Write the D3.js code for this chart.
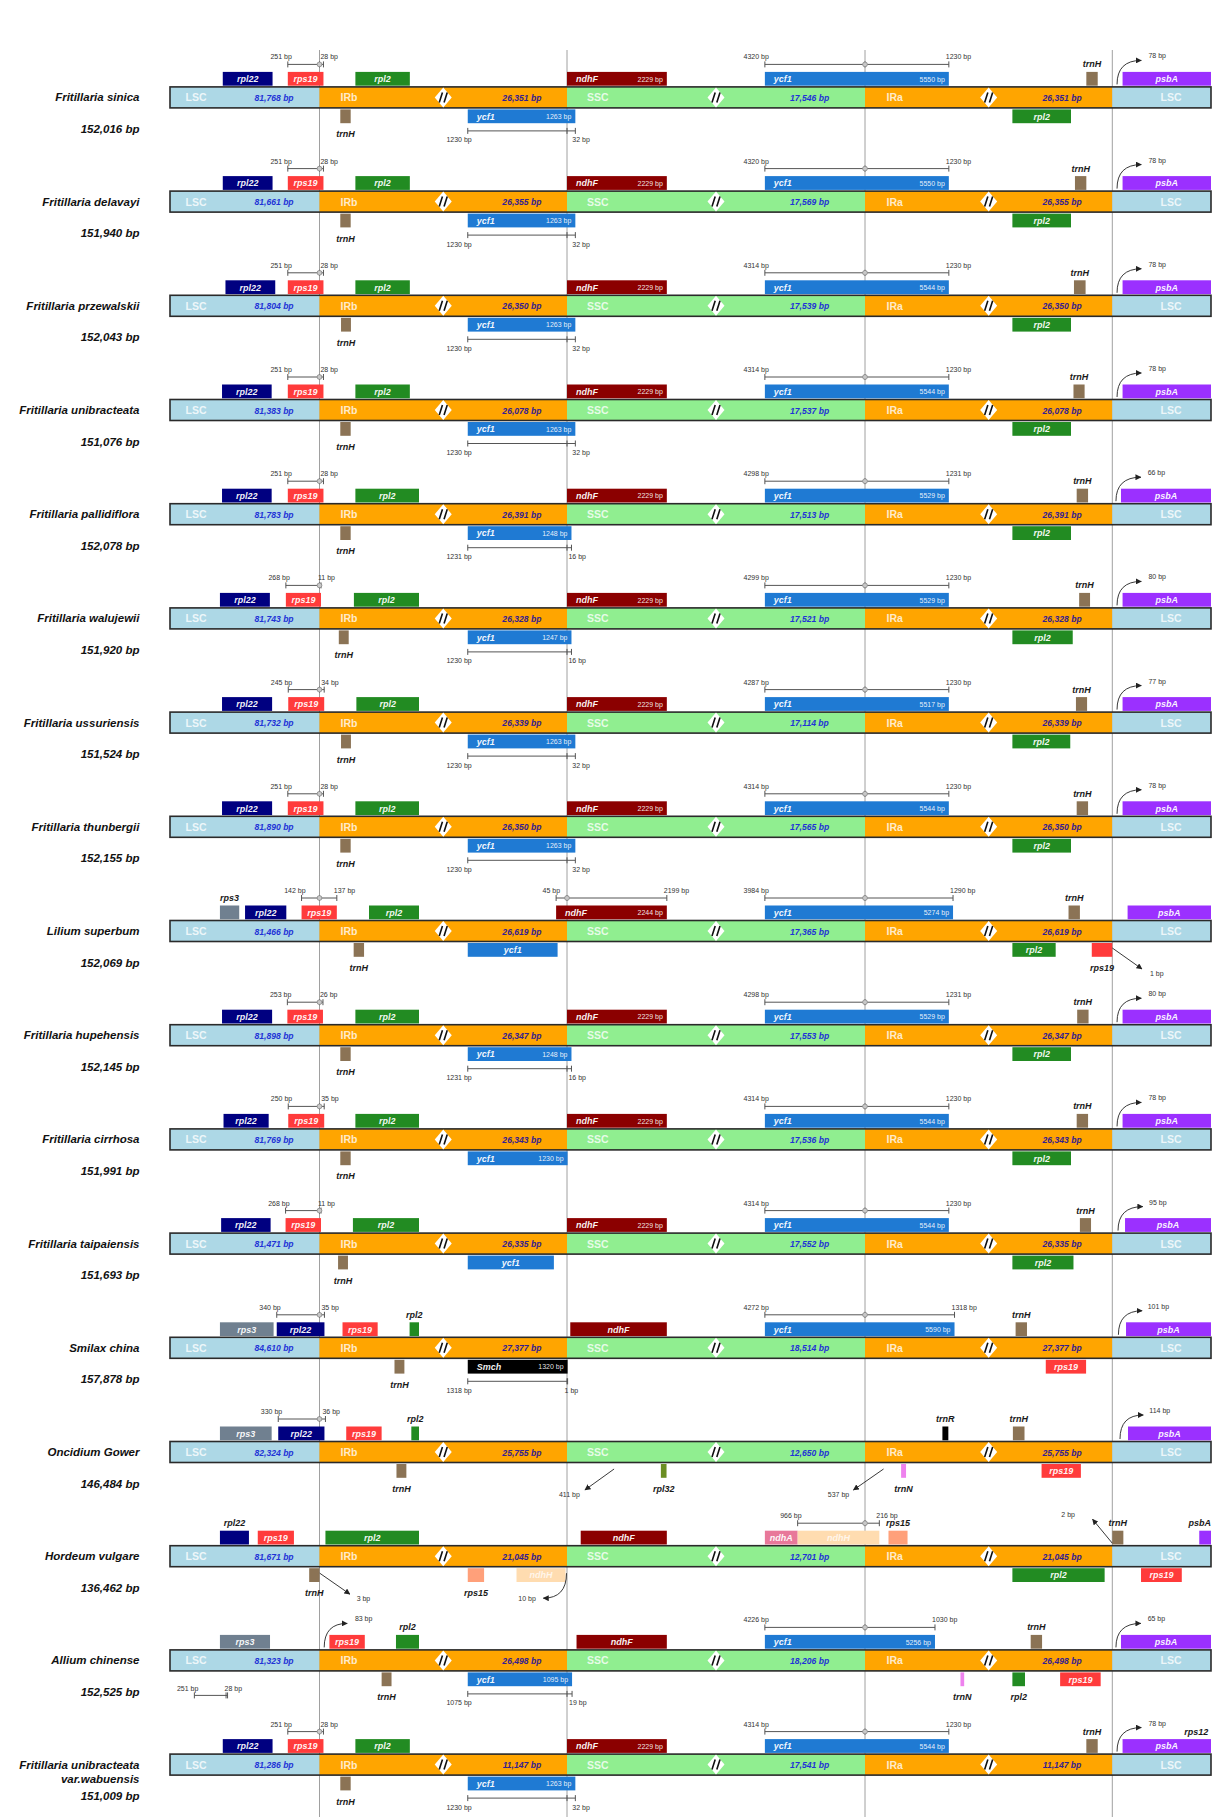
<!DOCTYPE html>
<html>
<head>
<meta charset="utf-8">
<script src="https://cdn.jsdelivr.net/npm/d3@7"></script>
<style>
  body { margin: 0; background: #fff; }
  svg { display: block; }
  text { font-family: "Liberation Sans", Arial, sans-serif; }
</style>
</head>
<body>
<div id="chart"></div>
<script>
// ---- data ----
// positions are in "junction units": 0 = LSC start, 1 = JLB, 2 = JSB, 3 = JSA, 4 = JLA, 5 = end
const species = ["Fritillaria sinica", "Fritillaria delavayi", "Fritillaria przewalskii", "Fritillaria unibracteata",
  "Fritillaria pallidiflora", "Fritillaria walujewii", "Fritillaria ussuriensis", "Fritillaria thunbergii",
  "Lilium superbum", "Fritillaria hupehensis", "Fritillaria cirrhosa", "Fritillaria taipaiensis",
  "Smilax china", "Oncidium Gower", "Hordeum vulgare", "Allium chinense",
  "Fritillaria unibracteata var.wabuensis"];
const genomeSizes = [152016, 151940, 152043, 151076, 152078, 151920, 151524, 152155, 152069,
  152145, 151991, 151693, 157878, 146484, 136462, 152525, 151009];
const lscSizes = [81768, 81661, 81804, 81383, 81783, 81743, 81732, 81890, 81466, 81898, 81769, 81471,
  84610, 82324, 81671, 81323, 81286];
const irSizes = [26351, 26355, 26350, 26078, 26391, 26328, 26339, 26350, 26619, 26347, 26343, 26335,
  27377, 25755, 21045, 26498, 11147];
const sscSizes = [17546, 17569, 17539, 17537, 17513, 17521, 17114, 17565, 17365, 17553, 17536, 17552,
  18514, 12650, 12701, 18206, 17541];

const junctions = [0, 1, 2, 3, 4, 5];
const regions = [["LSC", 0, 1], ["IRb", 1, 2], ["SSC", 2, 3], ["IRa", 3, 4], ["LSC", 4, 5]];

// genes drawn above the bar: [name, start, end, bp label]
const genesUp = [
  [["rpl22", 0.353, 0.686], ["rps19", 0.788, 1.016], ["rpl2", 1.145, 1.365], ["ndhF", 2.0, 2.335, "2229 bp"], ["ycf1", 2.664, 3.339, "5550 bp"], ["trnH", 3.895, 3.941], ["psbA", 4.104, 5]],
  [["rpl22", 0.353, 0.686], ["rps19", 0.788, 1.016], ["rpl2", 1.145, 1.365], ["ndhF", 2.0, 2.335, "2229 bp"], ["ycf1", 2.664, 3.339, "5550 bp"], ["trnH", 3.849, 3.895], ["psbA", 4.104, 5]],
  [["rpl22", 0.371, 0.704], ["rps19", 0.788, 1.016], ["rpl2", 1.145, 1.365], ["ndhF", 2.0, 2.335, "2229 bp"], ["ycf1", 2.664, 3.339, "5544 bp"], ["trnH", 3.845, 3.892], ["psbA", 4.104, 5]],
  [["rpl22", 0.348, 0.680], ["rps19", 0.788, 1.016], ["rpl2", 1.145, 1.365], ["ndhF", 2.0, 2.335, "2229 bp"], ["ycf1", 2.664, 3.339, "5544 bp"], ["trnH", 3.843, 3.888], ["psbA", 4.104, 5]],
  [["rpl22", 0.348, 0.680], ["rps19", 0.788, 1.016], ["rpl2", 1.145, 1.402], ["ndhF", 2.0, 2.335, "2229 bp"], ["ycf1", 2.664, 3.339, "5529 bp"], ["trnH", 3.856, 3.902], ["psbA", 4.088, 5]],
  [["rpl22", 0.334, 0.668], ["rps19", 0.775, 1.006], ["rpl2", 1.139, 1.402], ["ndhF", 2.0, 2.335, "2229 bp"], ["ycf1", 2.664, 3.339, "5529 bp"], ["trnH", 3.866, 3.910], ["psbA", 4.104, 5]],
  [["rpl22", 0.348, 0.683], ["rps19", 0.791, 1.019], ["rpl2", 1.149, 1.402], ["ndhF", 2.0, 2.335, "2229 bp"], ["ycf1", 2.664, 3.339, "5517 bp"], ["trnH", 3.853, 3.898], ["psbA", 4.104, 5]],
  [["rpl22", 0.348, 0.683], ["rps19", 0.788, 1.016], ["rpl2", 1.145, 1.402], ["ndhF", 2.0, 2.335, "2229 bp"], ["ycf1", 2.664, 3.339, "5544 bp"], ["trnH", 3.856, 3.902], ["psbA", 4.104, 5]],
  [["rps3", 0.334, 0.463], ["rpl22", 0.502, 0.778], ["rps19", 0.880, 1.070], ["rpl2", 1.200, 1.402], ["ndhF", 1.956, 2.335, "2244 bp"], ["ycf1", 2.664, 3.356, "5274 bp"], ["trnH", 3.823, 3.869], ["psbA", 4.155, 5]],
  [["rpl22", 0.348, 0.683], ["rps19", 0.785, 1.014], ["rpl2", 1.145, 1.402], ["ndhF", 2.0, 2.335, "2229 bp"], ["ycf1", 2.664, 3.339, "5529 bp"], ["trnH", 3.858, 3.904], ["psbA", 4.104, 5]],
  [["rpl22", 0.358, 0.660], ["rps19", 0.791, 1.019], ["rpl2", 1.145, 1.402], ["ndhF", 2.0, 2.335, "2229 bp"], ["ycf1", 2.664, 3.339, "5544 bp"], ["trnH", 3.856, 3.902], ["psbA", 4.104, 5]],
  [["rpl22", 0.342, 0.673], ["rps19", 0.773, 1.006], ["rpl2", 1.135, 1.402], ["ndhF", 2.0, 2.335, "2229 bp"], ["ycf1", 2.664, 3.339, "5544 bp"], ["trnH", 3.869, 3.914], ["psbA", 4.129, 5]],
  [["rps3", 0.334, 0.693], ["rpl22", 0.714, 1.020], ["rps19", 1.093, 1.235], ["rpl2", 1.364, 1.402], ["ndhF", 2.011, 2.335], ["ycf1", 2.664, 3.362, "5590 bp"], ["trnH", 3.609, 3.655], ["psbA", 4.139, 5]],
  [["rps3", 0.334, 0.680], ["rpl22", 0.724, 1.020], ["rps19", 1.108, 1.251], ["rpl2", 1.371, 1.402], ["trnR", 3.313, 3.337], ["trnH", 3.598, 3.645], ["psbA", 4.159, 5]],
  [["rpl22", 0.334, 0.528], ["rps19", 0.587, 0.829], ["rpl2", 1.024, 1.402], ["ndhF", 2.046, 2.335], ["ndhA", 2.664, 2.774], ["ndhH", 2.774, 3.058], ["rps15", 3.095, 3.172], ["trnH", 4.0, 4.112], ["psbA", 4.881, 5]],
  [["rps3", 0.334, 0.669], ["rps19", 1.040, 1.183], ["rpl2", 1.309, 1.402], ["ndhF", 2.032, 2.335], ["ycf1", 2.664, 3.283, "5256 bp"], ["trnH", 3.670, 3.716], ["psbA", 4.088, 5]],
  [["rpl22", 0.353, 0.686], ["rps19", 0.788, 1.016], ["rpl2", 1.145, 1.365], ["ndhF", 2.0, 2.335, "2229 bp"], ["ycf1", 2.664, 3.339, "5544 bp"], ["trnH", 3.895, 3.941], ["psbA", 4.104, 5]]
];

// genes drawn below the bar
const genesDown = [
  [["trnH", 1.084, 1.126], ["ycf1", 1.599, 2.028, "1263 bp"], ["rpl2", 3.596, 3.833]],
  [["trnH", 1.084, 1.126], ["ycf1", 1.599, 2.028, "1263 bp"], ["rpl2", 3.596, 3.833]],
  [["trnH", 1.087, 1.127], ["ycf1", 1.599, 2.028, "1263 bp"], ["rpl2", 3.596, 3.833]],
  [["trnH", 1.084, 1.126], ["ycf1", 1.599, 2.028, "1263 bp"], ["rpl2", 3.596, 3.833]],
  [["trnH", 1.084, 1.126], ["ycf1", 1.599, 2.015, "1248 bp"], ["rpl2", 3.596, 3.833]],
  [["trnH", 1.078, 1.118], ["ycf1", 1.599, 2.015, "1247 bp"], ["rpl2", 3.596, 3.840]],
  [["trnH", 1.087, 1.127], ["ycf1", 1.599, 2.028, "1263 bp"], ["rpl2", 3.596, 3.830]],
  [["trnH", 1.084, 1.126], ["ycf1", 1.599, 2.028, "1263 bp"], ["rpl2", 3.596, 3.833]],
  [["trnH", 1.138, 1.180], ["ycf1", 1.599, 1.962], ["rpl2", 3.596, 3.771], ["rps19", 3.917, 4.0]],
  [["trnH", 1.084, 1.126], ["ycf1", 1.599, 2.015, "1248 bp"], ["rpl2", 3.596, 3.833]],
  [["trnH", 1.084, 1.126], ["ycf1", 1.599, 2.002, "1230 bp"], ["rpl2", 3.596, 3.833]],
  [["trnH", 1.075, 1.115], ["ycf1", 1.599, 1.947], ["rpl2", 3.596, 3.843]],
  [["trnH", 1.303, 1.343], ["Smch", 1.599, 2.002, "1320 bp"], ["rps19", 3.731, 3.894]],
  [["trnH", 1.311, 1.351], ["rpl32", 2.315, 2.334], ["trnN", 3.146, 3.166], ["rps19", 3.714, 3.873]],
  [["trnH", 0.931, 1.0], ["rps15", 1.599, 1.665], ["ndhH", 1.796, 1.994], ["rpl2", 3.596, 3.969], ["rps19", 4.291, 4.704]],
  [["trnH", 1.251, 1.291], ["ycf1", 1.599, 2.017, "1095 bp"], ["trnN", 3.386, 3.401], ["rpl2", 3.596, 3.647], ["rps19", 3.789, 3.953]],
  [["trnH", 1.084, 1.126], ["ycf1", 1.599, 2.028, "1263 bp"]]
];

// distance bars: [side, start, junction, end, left label, right label]
const spans = [
  [["up", 0.788, 1, 1.016, "251 bp", "28 bp"], ["up", 2.664, 3, 3.339, "4320 bp", "1230 bp"], ["down", 1.599, 2, 2.028, "1230 bp", "32 bp"]],
  [["up", 0.788, 1, 1.016, "251 bp", "28 bp"], ["up", 2.664, 3, 3.339, "4320 bp", "1230 bp"], ["down", 1.599, 2, 2.028, "1230 bp", "32 bp"]],
  [["up", 0.788, 1, 1.016, "251 bp", "28 bp"], ["up", 2.664, 3, 3.339, "4314 bp", "1230 bp"], ["down", 1.599, 2, 2.028, "1230 bp", "32 bp"]],
  [["up", 0.788, 1, 1.016, "251 bp", "28 bp"], ["up", 2.664, 3, 3.339, "4314 bp", "1230 bp"], ["down", 1.599, 2, 2.028, "1230 bp", "32 bp"]],
  [["up", 0.788, 1, 1.016, "251 bp", "28 bp"], ["up", 2.664, 3, 3.339, "4298 bp", "1231 bp"], ["down", 1.599, 2, 2.015, "1231 bp", "16 bp"]],
  [["up", 0.775, 1, 1.006, "268 bp", "11 bp"], ["up", 2.664, 3, 3.339, "4299 bp", "1230 bp"], ["down", 1.599, 2, 2.015, "1230 bp", "16 bp"]],
  [["up", 0.791, 1, 1.019, "245 bp", "34 bp"], ["up", 2.664, 3, 3.339, "4287 bp", "1230 bp"], ["down", 1.599, 2, 2.028, "1230 bp", "32 bp"]],
  [["up", 0.788, 1, 1.016, "251 bp", "28 bp"], ["up", 2.664, 3, 3.339, "4314 bp", "1230 bp"], ["down", 1.599, 2, 2.028, "1230 bp", "32 bp"]],
  [["up", 0.880, 1, 1.070, "142 bp", "137 bp"], ["up", 1.956, 2, 2.335, "45 bp", "2199 bp"], ["up", 2.664, 3, 3.356, "3984 bp", "1290 bp"]],
  [["up", 0.785, 1, 1.014, "253 bp", "26 bp"], ["up", 2.664, 3, 3.339, "4298 bp", "1231 bp"], ["down", 1.599, 2, 2.015, "1231 bp", "16 bp"]],
  [["up", 0.791, 1, 1.019, "250 bp", "35 bp"], ["up", 2.664, 3, 3.339, "4314 bp", "1230 bp"]],
  [["up", 0.773, 1, 1.006, "268 bp", "11 bp"], ["up", 2.664, 3, 3.339, "4314 bp", "1230 bp"]],
  [["up", 0.714, 1, 1.020, "340 bp", "35 bp"], ["up", 2.664, 3, 3.362, "4272 bp", "1318 bp"], ["down", 1.599, 2, 2.002, "1318 bp", "1 bp"]],
  [["up", 0.724, 1, 1.024, "330 bp", "36 bp"]],
  [["up", 2.774, 3, 3.058, "966 bp", "216 bp"]],
  [["up", 2.664, 3, 3.283, "4226 bp", "1030 bp"], ["down", 1.599, 2, 2.017, "1075 bp", "19 bp"], ["low", 0.163, 0.375, 0.385, "251 bp", "28 bp"]],
  [["up", 0.788, 1, 1.016, "251 bp", "28 bp"], ["up", 2.664, 3, 3.339, "4314 bp", "1230 bp"], ["down", 1.599, 2, 2.028, "1230 bp", "32 bp"]]
];

// pointer arrows: [shape, side, from, to, label, label position, anchor]
const pointers = [
  [["curve", "up", 4.048, 4.294, "78 bp", 4.366, "start"]],
  [["curve", "up", 4.048, 4.294, "78 bp", 4.366, "start"]],
  [["curve", "up", 4.048, 4.294, "78 bp", 4.366, "start"]],
  [["curve", "up", 4.048, 4.294, "78 bp", 4.366, "start"]],
  [["curve", "up", 4.037, 4.290, "66 bp", 4.358, "start"]],
  [["curve", "up", 4.048, 4.294, "80 bp", 4.366, "start"]],
  [["curve", "up", 4.048, 4.294, "77 bp", 4.366, "start"]],
  [["curve", "up", 4.048, 4.294, "78 bp", 4.366, "start"]],
  [["line", "down", 4.0, 4.301, "1 bp", 4.382, "start"]],
  [["curve", "up", 4.048, 4.294, "80 bp", 4.366, "start"]],
  [["curve", "up", 4.048, 4.294, "78 bp", 4.366, "start"]],
  [["curve", "up", 4.058, 4.310, "95 bp", 4.372, "start"]],
  [["curve", "up", 4.062, 4.302, "101 bp", 4.358, "start"]],
  [["curve", "up", 4.078, 4.314, "114 bp", 4.375, "start"], ["line", "down", 2.158, 2.060, "411 bp", 2.008, "middle"], ["line", "down", 3.075, 2.961, "537 bp", 2.947, "end"]],
  [["line", "down", 1.001, 1.123, "3 bp", 1.150, "start"], ["curve", "down", 1.998, 1.904, "10 bp", 1.874, "end"], ["line", "up", 4.0, 3.920, "2 bp", 3.849, "end"]],
  [["curve", "up", 1.019, 1.112, "83 bp", 1.143, "start"], ["curve", "up", 4.037, 4.290, "65 bp", 4.358, "start"]],
  [["curve", "up", 4.048, 4.294, "78 bp", 4.366, "start"]]
];

// labels with no box
const looseLabels = [[16, "rps12", 4.850]];

// ---- styles ----
const regionColors = { LSC: "#add8e6", IRb: "#ffa500", IRa: "#ffa500", SSC: "#90ee90" };
const geneColors = {
  rpl22: "#000080", rps19: "#ff3b3b", rpl2: "#228b22", ndhF: "#8b0000", ycf1: "#1f7ad3",
  trnH: "#8b7355", psbA: "#9b30ff", rps3: "#708090", trnR: "#000000", Smch: "#000000",
  rpl32: "#6b8e23", trnN: "#ee82ee", ndhA: "#e8789a", ndhH: "#ffdcb0", rps15: "#ffa07a"
};

const W = 1212, H = 1817;
const svg = d3.select("#chart").append("svg")
  .attr("width", W)
  .attr("height", H);

const x = d3.scaleLinear().domain(junctions).range([170, 319.5, 567, 865, 1112.3, 1211]);
const y = d3.scalePoint().domain(d3.range(species.length)).range([97.4, 97.4 + 16 * 104.2]);
const fmt = d3.format(",");

svg.append("defs").append("marker")
  .attr("id", "head")
  .attr("viewBox", "0 0 6 6")
  .attr("refX", 5.5).attr("refY", 3)
  .attr("markerWidth", 6).attr("markerHeight", 6)
  .attr("markerUnits", "userSpaceOnUse")
  .attr("orient", "auto")
  .append("path").attr("d", "M0,0 L6,3 L0,6 z").attr("fill", "#222");

// junction lines
svg.append("g").selectAll("line")
  .data([1, 2, 3, 4])
  .join("line")
  .attr("x1", d => x(d)).attr("x2", d => x(d))
  .attr("y1", 50).attr("y2", H)
  .attr("stroke", "#a0a0a0")
  .attr("stroke-width", 1);

const barH = 21;

species.forEach((name, i) => {
  const g = svg.append("g").attr("transform", `translate(0, ${y(i)})`);

  // species name and genome size
  const nameLines = name.includes(" var.") ? [name.split(" var.")[0], "var." + name.split(" var.")[1]] : [name];
  nameLines.forEach((t, k) => {
    g.append("text")
      .attr("x", 139.5).attr("y", 4 + k * 14.5)
      .attr("text-anchor", "end")
      .attr("font-size", 11.5).attr("font-weight", "bold").attr("font-style", "italic")
      .attr("fill", "#111")
      .text(t);
  });
  g.append("text")
    .attr("x", 139.5).attr("y", 35.5)
    .attr("text-anchor", "end")
    .attr("font-size", 11.5).attr("font-weight", "bold").attr("font-style", "italic")
    .attr("fill", "#111")
    .text(fmt(genomeSizes[i]) + " bp");

  // the genome bar
  g.selectAll("rect.region")
    .data(regions)
    .join("rect")
    .attr("class", "region")
    .attr("x", d => x(d[1]))
    .attr("width", d => x(d[2]) - x(d[1]))
    .attr("y", -barH / 2).attr("height", barH)
    .attr("fill", d => regionColors[d[0]]);
  g.append("rect")
    .attr("x", x(0)).attr("width", x(5) - x(0))
    .attr("y", -barH / 2).attr("height", barH)
    .attr("fill", "none").attr("stroke", "#2a2a2a").attr("stroke-width", 1.6);

  // region names
  const regionLabels = [["LSC", 0.104, "start"], ["IRb", 1.085, "start"], ["SSC", 2.067, "start"], ["IRa", 3.087, "start"], ["LSC", 4.595, "middle"]];
  regionLabels.forEach(r => {
    g.append("text")
      .attr("x", x(r[1])).attr("y", 4)
      .attr("text-anchor", r[2])
      .attr("font-size", 10.5).attr("font-weight", "bold")
      .attr("fill", "#fff").attr("fill-opacity", 0.8)
      .text(r[0]);
  });
  const sizeLabels = [[lscSizes[i], 0.696, "#1f33d6"], [irSizes[i], 1.818, "#35208f"], [sscSizes[i], 2.814, "#1f33d6"], [irSizes[i], 3.797, "#35208f"]];
  sizeLabels.forEach(s => {
    g.append("text")
      .attr("x", x(s[1])).attr("y", 3.5)
      .attr("text-anchor", "middle")
      .attr("font-size", 8.6).attr("font-weight", "bold").attr("font-style", "italic")
      .attr("fill", s[2])
      .text(fmt(s[0]) + " bp");
  });

  // break marks
  [1.5, 2.5, 3.5].forEach(u => {
    const d = g.append("g").attr("transform", `translate(${x(u)},0)`);
    d.append("path").attr("d", "M0,-10 L8.5,0 L0,10 L-8.5,0 Z").attr("fill", "#fff");
    d.append("path").attr("d", "M-4,5 L-0.8,-5 M0.8,5 L4,-5")
      .attr("stroke", "#111").attr("stroke-width", 1.6);
  });

  // genes
  const drawGenes = (list, up) => {
    list.forEach(gd => {
      const [gname, s, e, bp] = gd;
      const x0 = x(s), x1 = x(e), w = x1 - x0;
      const top = up ? -25.5 : 12;
      g.append("rect")
        .attr("x", x0).attr("width", w)
        .attr("y", top).attr("height", 13.8)
        .attr("fill", geneColors[gname]);
      if (w < 30) {
        const nearEdge = (x0 + x1) / 2 + 12 > W;
        g.append("text")
          .attr("x", nearEdge ? W - 1 : (x0 + x1) / 2).attr("y", up ? -30 : 40)
          .attr("text-anchor", nearEdge ? "end" : "middle")
          .attr("font-size", 9).attr("font-weight", "bold").attr("font-style", "italic")
          .attr("fill", "#1a1a1a")
          .text(gname);
      } else {
        const ty = top + 10.2;
        g.append("text")
          .attr("x", bp ? x0 + 9 : (x0 + x1) / 2).attr("y", ty)
          .attr("text-anchor", bp ? "start" : "middle")
          .attr("font-size", 9).attr("font-weight", "bold").attr("font-style", "italic")
          .attr("fill", "#fff").attr("fill-opacity", gname === "ndhH" ? 0.75 : 0.95)
          .text(gname);
        if (bp) {
          g.append("text")
            .attr("x", x1 - 4).attr("y", ty - 0.5)
            .attr("text-anchor", "end")
            .attr("font-size", 7)
            .attr("fill", "#fff").attr("fill-opacity", 0.9)
            .text(bp);
        }
      }
    });
  };
  drawGenes(genesUp[i], true);
  drawGenes(genesDown[i], false);

  // distance bars
  spans[i].forEach(sp => {
    const [side, s, j, e, lt, rt] = sp;
    const ly = side === "up" ? -33 : side === "down" ? 33.5 : 35;
    const ty = side === "up" ? -38 : side === "down" ? 45 : 31;
    const a = x(s), b = x(j), c = x(e);
    const mg = g.append("g").attr("stroke", "#555").attr("stroke-width", 1);
    mg.append("line").attr("x1", a).attr("x2", c).attr("y1", ly).attr("y2", ly);
    [a, b, c].forEach(t => {
      mg.append("line").attr("x1", t).attr("x2", t).attr("y1", ly - 3).attr("y2", ly + 3);
    });
    if (side === "up") {
      g.append("circle").attr("cx", b).attr("cy", ly).attr("r", 2.4)
        .attr("fill", "#c8c8c8").attr("stroke", "#888").attr("stroke-width", 0.8);
    }
    g.append("text").attr("x", a + 4).attr("y", ty)
      .attr("text-anchor", "end").attr("font-size", 7).attr("fill", "#333").text(lt);
    g.append("text").attr("x", c - 3).attr("y", ty)
      .attr("text-anchor", "start").attr("font-size", 7).attr("fill", "#333").text(rt);
  });

  // pointer arrows
  pointers[i].forEach(p => {
    const [shape, side, u0, u1, label, lu, anchor] = p;
    const x0 = x(u0), x1 = x(u1);
    const y0 = side === "up" ? -13 : 17;
    const y1 = side === "up" ? -37 : (shape === "curve" ? 42 : 38);
    const d = shape === "curve"
      ? `M${x0},${y0} Q${x0},${y1} ${x1},${y1}`
      : `M${x0},${y0} L${x1},${y1}`;
    g.append("path")
      .attr("d", d)
      .attr("fill", "none").attr("stroke", "#222").attr("stroke-width", 0.9)
      .attr("marker-end", "url(#head)");
    g.append("text")
      .attr("x", x(lu)).attr("y", side === "up" ? -39 : 45)
      .attr("text-anchor", anchor)
      .attr("font-size", 7).attr("fill", "#333")
      .text(label);
  });

  looseLabels.filter(l => l[0] === i).forEach(l => {
    g.append("text")
      .attr("x", x(l[2])).attr("y", -30)
      .attr("text-anchor", "middle")
      .attr("font-size", 9).attr("font-weight", "bold").attr("font-style", "italic")
      .attr("fill", "#1a1a1a")
      .text(l[1]);
  });
});
</script>
</body>
</html>
